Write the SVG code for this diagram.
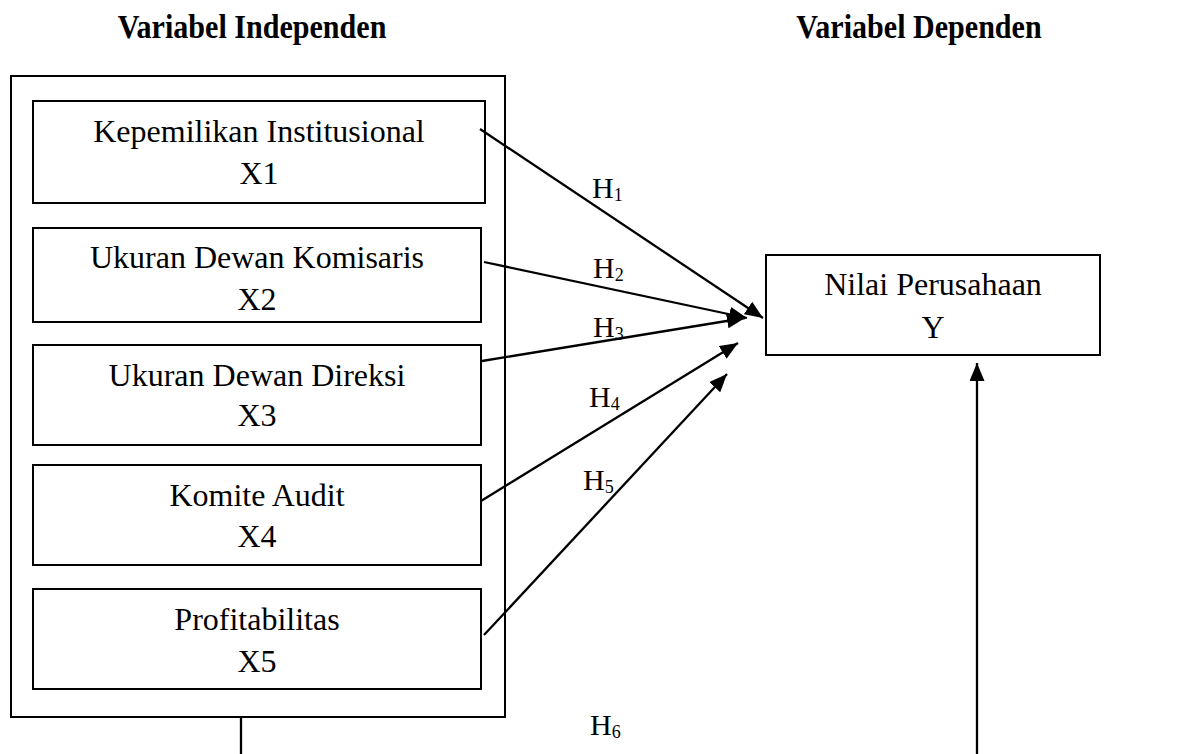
<svg xmlns="http://www.w3.org/2000/svg" width="1181" height="754" viewBox="0 0 1181 754">
<defs>
<style>
.box{fill:#fff;stroke:#000;stroke-width:2}
.t{font-family:"Liberation Serif","Times New Roman",serif;font-size:32px;fill:#000;text-anchor:middle}
.hd{font-family:"Liberation Serif","Times New Roman",serif;font-size:32px;font-weight:bold;fill:#000;text-anchor:middle}
.h{font-family:"Liberation Serif","Times New Roman",serif;font-size:30px;fill:#000}
.h .s{font-size:18px}
.c{fill:none;stroke:#000;stroke-width:2.3}
</style>
<marker id="ah" markerUnits="userSpaceOnUse" markerWidth="19" markerHeight="15" refX="18" refY="7.5" orient="auto">
<path d="M0,0 L18,7.5 L0,15 z" fill="#000"/>
</marker>
</defs>
<rect width="1181" height="754" fill="#fff"/>
<text class="hd" transform="translate(252,38) scale(0.94,1.06)">Variabel Independen</text>
<text class="hd" transform="translate(919,38) scale(0.94,1.06)">Variabel Dependen</text>

<g id="independen">
<rect class="box" x="11" y="76" width="494" height="641"/>
</g>
<g id="x1">
<rect class="box" x="33" y="101" width="452" height="102"/>
<text class="t" x="259" y="142">Kepemilikan Institusional</text>
<text class="t" x="259" y="184">X1</text>
</g>
<g id="x2">
<rect class="box" x="33" y="228" width="448" height="94"/>
<text class="t" x="257" y="268">Ukuran Dewan Komisaris</text>
<text class="t" x="257" y="310">X2</text>
</g>
<g id="x3">
<rect class="box" x="33" y="345" width="448" height="100"/>
<text class="t" x="257" y="386">Ukuran Dewan Direksi</text>
<text class="t" x="257" y="426">X3</text>
</g>
<g id="x4">
<rect class="box" x="33" y="465" width="448" height="100"/>
<text class="t" x="257" y="506">Komite Audit</text>
<text class="t" x="257" y="547">X4</text>
</g>
<g id="x5">
<rect class="box" x="33" y="589" width="448" height="100"/>
<text class="t" x="257" y="630">Profitabilitas</text>
<text class="t" x="257" y="672">X5</text>
</g>
<g id="y">
<rect class="box" x="766" y="255" width="334" height="100"/>
<text class="t" x="933" y="295">Nilai Perusahaan</text>
<text class="t" x="933" y="338">Y</text>
</g>

<g id="connectors">
<path class="c" d="M480,129 L763,318" marker-end="url(#ah)"/>
<path class="c" d="M484,262 L747,318" marker-end="url(#ah)"/>
<path class="c" d="M482,361 L745,318" marker-end="url(#ah)"/>
<path class="c" d="M481,501 L738,343" marker-end="url(#ah)"/>
<path class="c" d="M484,635 L727,374" marker-end="url(#ah)"/>
<path class="c" d="M241,717 V760 H977 V363" marker-end="url(#ah)"/>
</g>

<g id="labels">
<text class="h" x="592" y="198">H<tspan class="s" dy="3">1</tspan></text>
<text class="h" x="593" y="278">H<tspan class="s" dy="3">2</tspan></text>
<text class="h" x="593" y="337">H<tspan class="s" dy="3">3</tspan></text>
<text class="h" x="589" y="407">H<tspan class="s" dy="3">4</tspan></text>
<text class="h" x="583" y="490">H<tspan class="s" dy="3">5</tspan></text>
<text class="h" x="590" y="735">H<tspan class="s" dy="3">6</tspan></text>
</g>
</svg>
